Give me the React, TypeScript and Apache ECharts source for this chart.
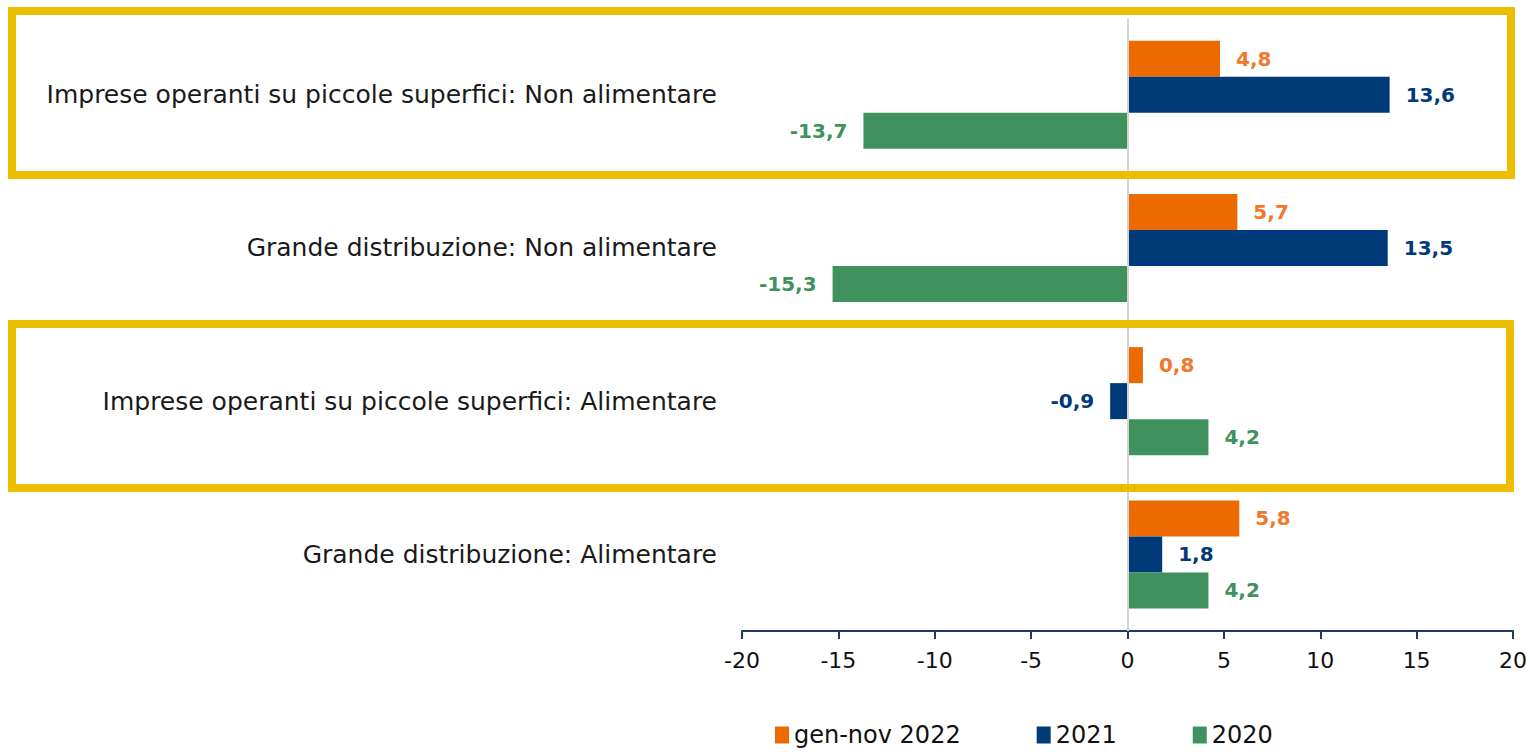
import React, { useEffect, useRef } from "react";
import * as echarts from "echarts";

const categories = [
  "Imprese operanti su piccole superfici: Non alimentare",
  "Grande distribuzione: Non alimentare",
  "Imprese operanti su piccole superfici: Alimentare",
  "Grande distribuzione: Alimentare",
];
const seriesNames = ["gen-nov 2022", "2021", "2020"];
const values2022 = [4.8, 5.7, 0.8, 5.8];
const values2021 = [13.6, 13.5, -0.9, 1.8];
const values2020 = [-13.7, -15.3, 4.2, 4.2];
const barColors = ["#ED6A00", "#003A78", "#3F925C"];
const labelColors = ["#F0782A", "#003A78", "#3F925C"];
const xTicks = { min: -20, max: 20, interval: 5 };

const FONT = "DejaVu Sans";

function makeSeries(name: string, data: number[], idx: number) {
  return {
    name,
    type: "bar",
    barWidth: 36,
    barGap: "0%",
    itemStyle: { color: barColors[idx] },
    data: data.map((v) => ({
      value: v,
      label: {
        show: true,
        position: v < 0 ? "left" : "right",
        distance: 16,
        color: labelColors[idx],
        fontWeight: "bold",
        fontSize: 20,
        fontFamily: FONT,
        formatter: () => v.toFixed(1).replace(".", ","),
      },
    })),
    ...(idx === 0
      ? {
          markLine: {
            silent: true,
            symbol: "none",
            label: { show: false },
            lineStyle: { color: "#D4D4D4", width: 2, type: "solid" },
            data: [{ xAxis: 0 }],
          },
        }
      : {}),
  };
}

export default function App() {
  const ref = useRef<HTMLDivElement>(null);
  useEffect(() => {
    const chart = echarts.init(ref.current!, null, { renderer: "svg" });
    chart.setOption({
      animation: false,
      backgroundColor: "#ffffff",
      grid: { left: 742, right: 17, top: 18, bottom: 121, containLabel: false },
      xAxis: {
        type: "value",
        min: xTicks.min,
        max: xTicks.max,
        interval: xTicks.interval,
        splitLine: { show: false },
        axisLine: { show: true, onZero: false, lineStyle: { color: "#1F3A68", width: 2 } },
        axisTick: { show: true, length: 8, lineStyle: { color: "#1F3A68", width: 2 } },
        axisLabel: { color: "#111", fontSize: 22, fontFamily: FONT, margin: 18 },
      },
      yAxis: {
        type: "category",
        inverse: true,
        data: categories,
        axisLine: { show: false, onZero: false },
        axisTick: { show: false },
        axisLabel: { color: "#1a1a1a", fontSize: 25, fontFamily: FONT, margin: 25 },
      },
      legend: {
        bottom: 0,
        left: 770,
        itemWidth: 14,
        itemHeight: 17,
        itemGap: 76,
        icon: "rect",
        textStyle: { color: "#111", fontSize: 24, fontFamily: FONT },
        data: seriesNames,
      },
      series: [
        makeSeries(seriesNames[0], values2022, 0),
        makeSeries(seriesNames[1], values2021, 1),
        makeSeries(seriesNames[2], values2020, 2),
      ],
      graphic: [
        {
          type: "rect",
          z: 100,
          shape: { x: 12, y: 11, width: 1499, height: 164 },
          style: { fill: "none", stroke: "#EDBE00", lineWidth: 8 },
        },
        {
          type: "rect",
          z: 100,
          shape: { x: 12, y: 324, width: 1498, height: 164 },
          style: { fill: "none", stroke: "#EDBE00", lineWidth: 8 },
        },
      ],
    });
    return () => chart.dispose();
  }, []);
  return (
    <div
      ref={ref}
      style={{ position: "fixed", left: 0, top: 0, width: 1530, height: 752 }}
    />
  );
}
